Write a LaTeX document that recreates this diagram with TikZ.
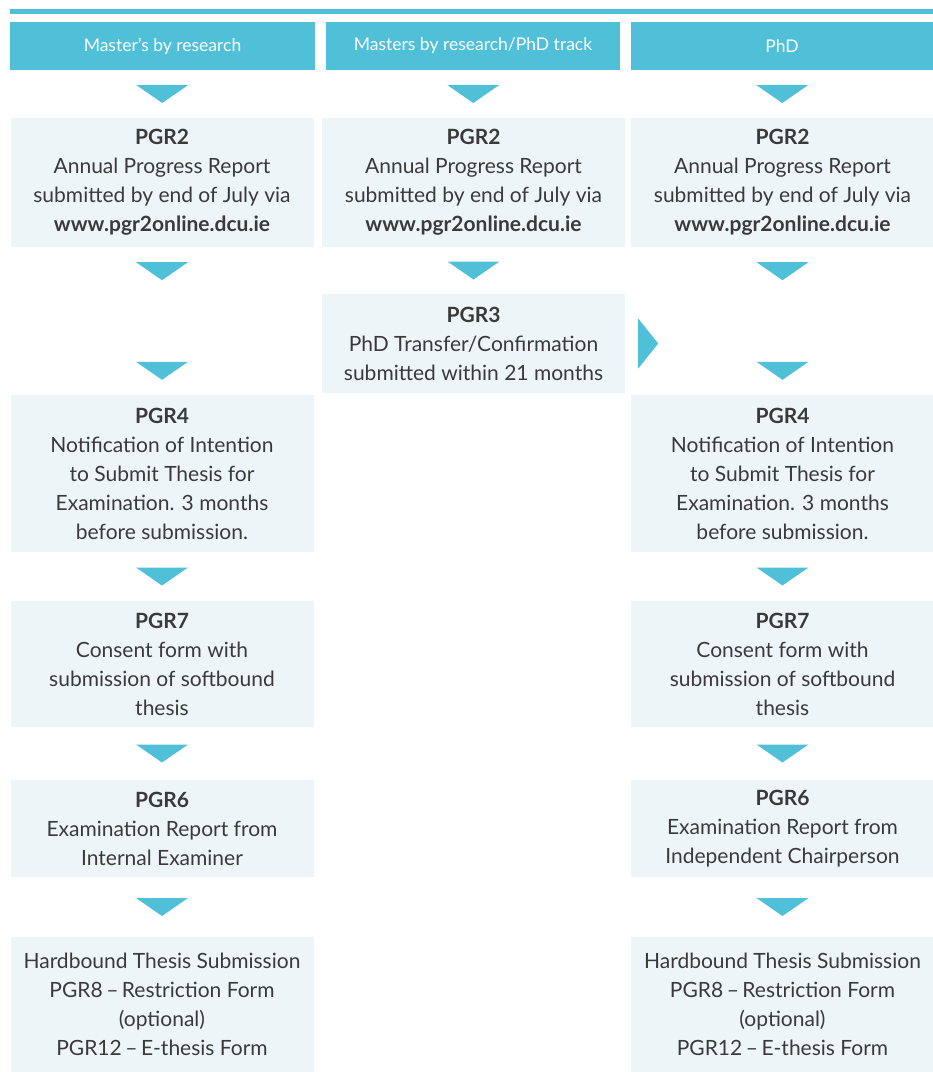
\documentclass[tikz,border=0pt]{standalone}
\usepackage{fontspec}
\setmainfont{Lato}
\usetikzlibrary{calc}
\definecolor{dcucyan}{HTML}{4FC0D8}
\definecolor{boxfill}{HTML}{EDF5F9}
\definecolor{txt}{HTML}{3A3A3A}
\tikzset{
  stepbox/.style={fill=boxfill, text=txt, align=center, inner sep=0pt,
    font=\fontsize{21}{29}\selectfont, minimum width=303pt},
  headbox/.style={fill=dcucyan, text=white, inner sep=0pt, minimum height=48pt,
    font=\fontsize{17.5}{20}\selectfont},
  downtri/.pic={\fill[dcucyan] (-26,-9) -- (26,-9) -- (0,9) -- cycle;},
  righttri/.pic={\fill[dcucyan] (-10,-25) -- (10,0) -- (-10,25) -- cycle;},
}
\newcommand{\dsh}{\,--\,}
\begin{document}
\begin{tikzpicture}[x=1pt,y=-1pt]
\useasboundingbox (0,0) rectangle (933,1072);
\fill[dcucyan] (10,9) rectangle (933,14);
% headers
\node[headbox, minimum width=305pt] (hL) at (162.5,46) {Master's by research};
\node[headbox, minimum width=294pt] (hM) at (473,46) {Masters by research/PhD track};
\node[headbox, minimum width=302pt] (hR) at (782,46) {PhD};
% PGR2 row
\node[stepbox, minimum height=129pt] (L2) at (162,182.5) {\textbf{PGR2}\\Annual Progress Report\\submitted by end of July via\\\textbf{www.pgr2online.dcu.ie}};
\node[stepbox, minimum height=129pt] (M2) at (473.5,182.5) {\textbf{PGR2}\\Annual Progress Report\\submitted by end of July via\\\textbf{www.pgr2online.dcu.ie}};
\node[stepbox, minimum height=129pt] (R2) at (782.5,182.5) {\textbf{PGR2}\\Annual Progress Report\\submitted by end of July via\\\textbf{www.pgr2online.dcu.ie}};
% PGR3
\node[stepbox, minimum height=99pt] (M3) at (473.5,343.5) {\textbf{PGR3}\\PhD Transfer/Confirmation\\submitted within 21 months};
% PGR4
\node[stepbox, minimum height=157pt] (L4) at (162,473.5) {\textbf{PGR4}\\Notification of Intention\\to Submit Thesis for\\Examination. 3 months\\before submission.};
\node[stepbox, minimum height=157pt] (R4) at (782.5,473.5) {\textbf{PGR4}\\Notification of Intention\\to Submit Thesis for\\Examination. 3 months\\before submission.};
% PGR7
\node[stepbox, minimum height=126pt] (L7) at (162,664) {\textbf{PGR7}\\Consent form with\\submission of softbound\\thesis};
\node[stepbox, minimum height=126pt] (R7) at (782.5,664) {\textbf{PGR7}\\Consent form with\\submission of softbound\\thesis};
% PGR6
\node[stepbox, minimum height=97pt] (L6) at (162,828.5) {\textbf{PGR6}\\Examination Report from\\Internal Examiner};
\node[stepbox, minimum height=97pt] (R6) at (782.5,828.5) {\textbf{PGR6}\\Examination Report from\\Independent Chairperson};
% final
\node[stepbox, minimum height=135pt] (L8) at (162,1004.5) {Hardbound Thesis Submission\\PGR8\dsh Restriction Form\\(optional)\\PGR12\dsh E-thesis Form};
\node[stepbox, minimum height=135pt] (R8) at (782.5,1004.5) {Hardbound Thesis Submission\\PGR8\dsh Restriction Form\\(optional)\\PGR12\dsh E-thesis Form};
% connectors (triangles)
\pic at ($(hL.south)!0.5!(L2.north)$) {downtri};
\pic at ($(hM.south)!0.5!(M2.north)$) {downtri};
\pic at ($(hR.south)!0.5!(R2.north)$) {downtri};
\pic at ($(L2.south)+(0,24)$) {downtri};
\pic at ($(L4.north)+(0,-24)$) {downtri};
\pic at ($(R2.south)+(0,24)$) {downtri};
\pic at ($(R4.north)+(0,-24)$) {downtri};
\pic at ($(M2.south)!0.5!(M3.north)$) {downtri};
\pic at ($(M3.east)+(23,0)$) {righttri};
\pic at ($(L4.south)!0.5!(L7.north)$) {downtri};
\pic at ($(R4.south)!0.5!(R7.north)$) {downtri};
\pic at ($(L7.south)!0.5!(L6.north)$) {downtri};
\pic at ($(R7.south)!0.5!(R6.north)$) {downtri};
\pic at ($(L6.south)!0.5!(L8.north)$) {downtri};
\pic at ($(R6.south)!0.5!(R8.north)$) {downtri};
\end{tikzpicture}
\end{document}
